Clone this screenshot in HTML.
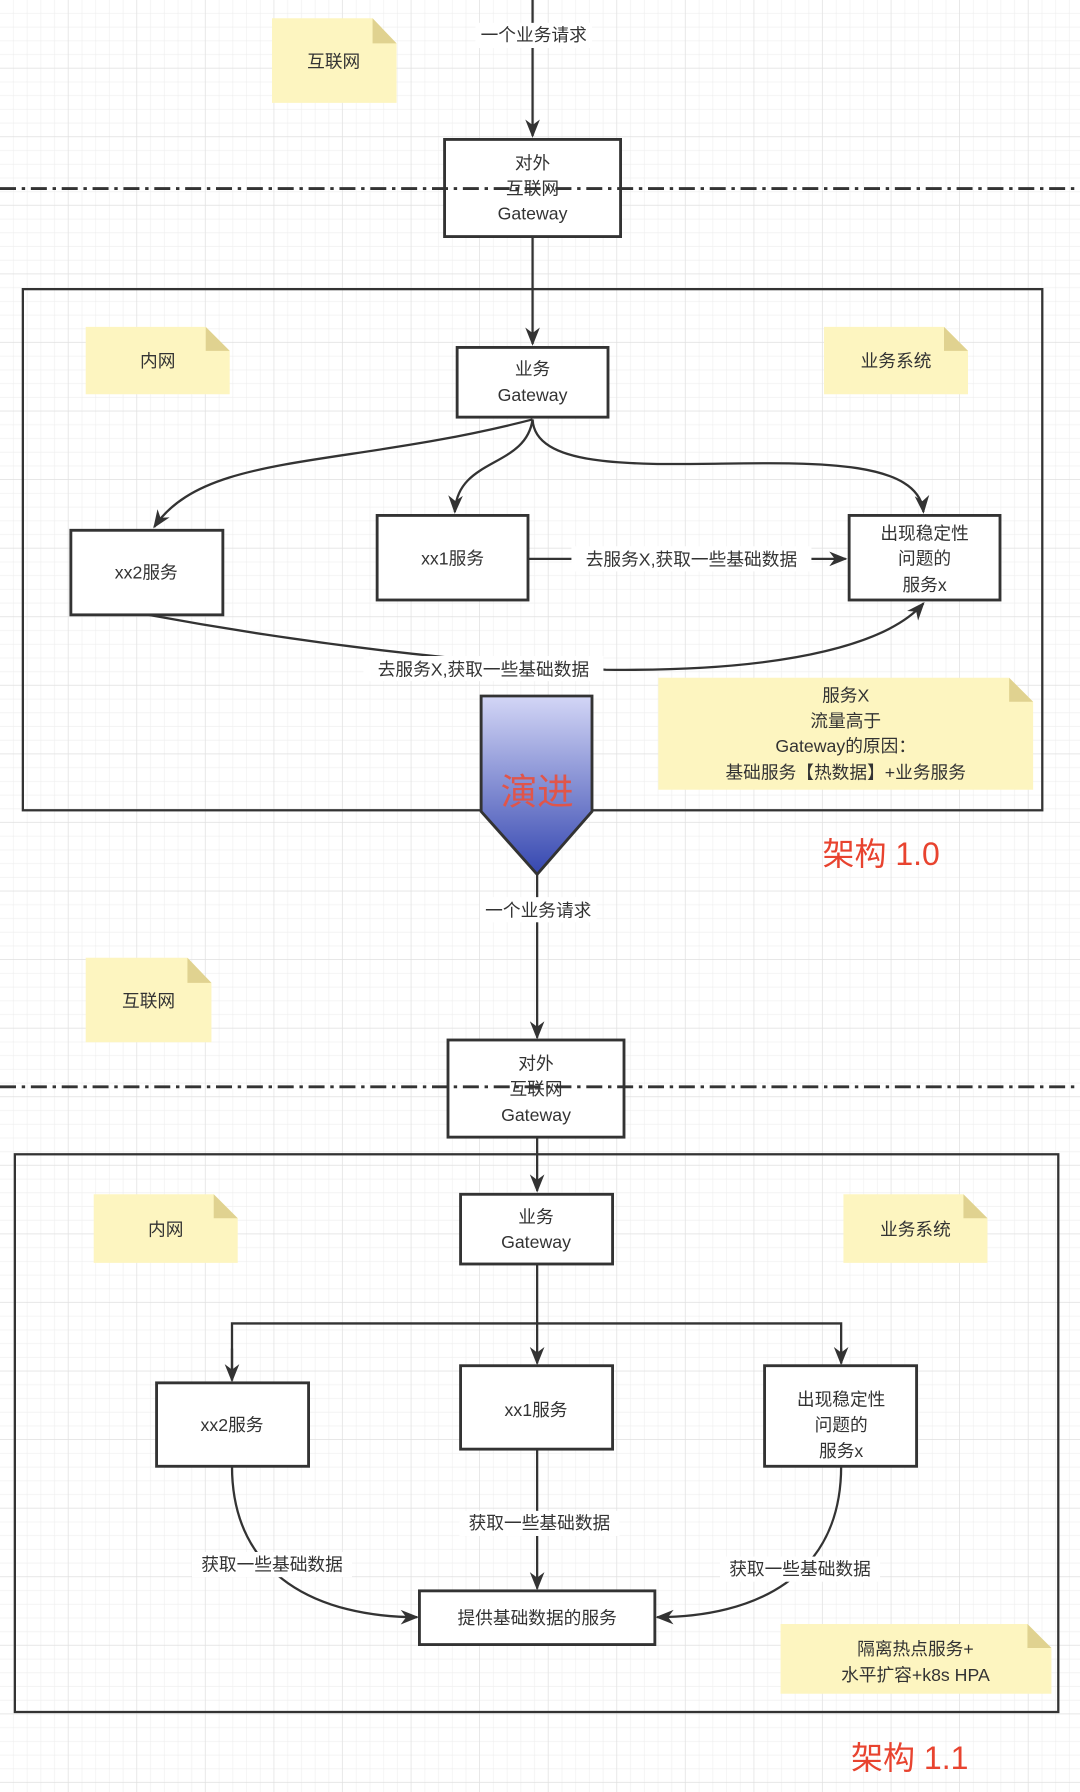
<!DOCTYPE html>
<html><head><meta charset="utf-8"><style>
html,body{margin:0;padding:0;background:#fff;}
svg{display:block;}
text{font-family:"Liberation Sans","Noto Sans CJK SC",sans-serif;fill:#333;font-size:15.5px;text-anchor:middle;}
</style></head><body>
<svg width="1080" height="1792" viewBox="0 0 945 1568" xmlns="http://www.w3.org/2000/svg">
<defs>
<pattern id="g" width="12" height="12" patternUnits="userSpaceOnUse"><path d="M12 0V12H0" fill="none" stroke="#ededed" stroke-width="1"/></pattern>
<pattern id="G" width="60" height="60" patternUnits="userSpaceOnUse"><rect width="60" height="60" fill="url(#g)"/><path d="M60 0V60H0" fill="none" stroke="#e0e0e0" stroke-width="1.2"/></pattern>
<marker id="a" viewBox="0 0 10 10" refX="9" refY="5" markerWidth="8" markerHeight="8" orient="auto"><path d="M0 1L10 5L0 9L3 5Z" fill="#333"/></marker>
<linearGradient id="ev" x1="0" y1="0" x2="0" y2="1"><stop offset="0" stop-color="#d3d6f6"/><stop offset="1" stop-color="#3547b0"/></linearGradient>
</defs>
<rect width="945" height="1568" fill="url(#G)"/>
<g fill="none" stroke="#333" stroke-width="2">
<line x1="466" y1="0" x2="466" y2="119" marker-end="url(#a)"/>
</g>
<rect x="416" y="20" width="102" height="22" fill="#fff"/>
<text x="467" y="36">一个业务请求</text>
<g fill="#fdf5c0">
<path d="M238 16H326L347 38V90H238Z"/><path d="M75 286H180L201 307V345H75Z"/><path d="M721 286H826L847 307V345H721Z"/>
<path d="M576 593H883L904 614V691H576Z"/>
<path d="M75 838H164L185 860V912H75Z"/><path d="M82 1045H187L208 1066V1105H82Z"/><path d="M738 1045H843L864 1066V1105H738Z"/>
<path d="M683 1421H899L920 1442V1482H683Z"/>
</g>
<g fill="#e0d290">
<path d="M326 16L347 38H326Z"/><path d="M180 286L201 307H180Z"/><path d="M826 286L847 307H826Z"/><path d="M883 593L904 614H883Z"/>
<path d="M164 838L185 860H164Z"/><path d="M187 1045L208 1066H187Z"/><path d="M843 1045L864 1066H843Z"/><path d="M899 1421L920 1442H899Z"/>
</g>
<text x="292" y="59">互联网</text><text x="138" y="321">内网</text><text x="784" y="321">业务系统</text>
<text x="740" y="614">服务X</text><text x="740" y="636">流量高于</text><text x="740" y="658">Gateway的原因：</text><text x="740" y="681">基础服务【热数据】+业务服务</text>
<text x="130" y="881">互联网</text><text x="145" y="1081">内网</text><text x="801" y="1081">业务系统</text>
<text x="801" y="1448">隔离热点服务+</text><text x="801" y="1471">水平扩容+k8s HPA</text>

<rect x="20" y="253" width="892" height="456" fill="none" stroke="#333" stroke-width="2"/>
<rect x="389" y="122" width="154" height="85" fill="#fff" stroke="#333" stroke-width="2.5"/>
<line x1="0" y1="165" x2="945" y2="165" stroke="#333" stroke-width="2.5" stroke-dasharray="14,5,3,5"/>
<text x="466" y="148">对外</text><text x="466" y="170">互联网</text><text x="466" y="192">Gateway</text>
<g fill="none" stroke="#333" stroke-width="2">
<line x1="466" y1="207" x2="466" y2="301" marker-end="url(#a)"/>
<path d="M466 367C300 410 180 395 135 461" marker-end="url(#a)"/>
<path d="M466 367C460 410 400 400 398 448" marker-end="url(#a)"/>
<path d="M466 367C470 450 800 360 808 448" marker-end="url(#a)"/>
<path d="M130 538Q330 575 530 586C700 588 780 560 808 528" marker-end="url(#a)"/>
<line x1="462" y1="489" x2="740" y2="489" marker-end="url(#a)"/>
</g>
<rect x="500" y="478" width="210" height="22" fill="#fff"/><text x="605" y="495">去服务X,获取一些基础数据</text>
<rect x="318" y="574" width="210" height="22" fill="#fff"/><text x="423" y="591">去服务X,获取一些基础数据</text>
<g fill="#fff" stroke="#333" stroke-width="2.5">
<rect x="400" y="304" width="132" height="61"/><rect x="62" y="464" width="133" height="74"/><rect x="330" y="451" width="132" height="74"/><rect x="743" y="451" width="132" height="74"/>
</g>
<text x="466" y="328">业务</text><text x="466" y="351">Gateway</text>
<text x="128" y="506">xx2服务</text><text x="396" y="494">xx1服务</text>
<text x="809" y="472">出现稳定性</text><text x="809" y="494">问题的</text><text x="809" y="517">服务x</text>
<path d="M421 609H518V710L470 765L421 710Z" fill="url(#ev)" stroke="#333" stroke-width="2.5"/>
<text x="470" y="704" style="font-size:32px;fill:#e0554a">演进</text>
<text x="771" y="757" style="font-size:28px;fill:#e8432f">架构 1.0</text>

<g fill="none" stroke="#333" stroke-width="2">
<line x1="470" y1="765" x2="470" y2="908" marker-end="url(#a)"/>
</g>
<rect x="420" y="785" width="102" height="22" fill="#fff"/><text x="471" y="802">一个业务请求</text>
<rect x="13" y="1010" width="913" height="488" fill="none" stroke="#333" stroke-width="2"/>
<rect x="392" y="910" width="154" height="85" fill="#fff" stroke="#333" stroke-width="2.5"/>
<line x1="0" y1="951" x2="945" y2="951" stroke="#333" stroke-width="2.5" stroke-dasharray="14,5,3,5"/>
<text x="469" y="936">对外</text><text x="469" y="958">互联网</text><text x="469" y="981">Gateway</text>
<g fill="none" stroke="#333" stroke-width="2">
<line x1="470" y1="995" x2="470" y2="1042" marker-end="url(#a)"/>
<line x1="470" y1="1106" x2="470" y2="1193" marker-end="url(#a)"/>
<path d="M203 1207V1158H736V1193" />
<line x1="203" y1="1180" x2="203" y2="1208" marker-end="url(#a)"/>
<line x1="736" y1="1180" x2="736" y2="1193" marker-end="url(#a)"/>
<line x1="470" y1="1268" x2="470" y2="1390" marker-end="url(#a)"/>
<path d="M203 1283C203 1380 280 1415 365 1415" marker-end="url(#a)"/>
<path d="M736 1283C736 1380 660 1415 575 1415" marker-end="url(#a)"/>
</g>
<g fill="#fff" stroke="#333" stroke-width="2.5">
<rect x="403" y="1045" width="133" height="61"/><rect x="137" y="1210" width="133" height="73"/><rect x="403" y="1195" width="133" height="73"/><rect x="669" y="1195" width="133" height="88"/><rect x="367" y="1392" width="206" height="47"/>
</g>
<text x="469" y="1070">业务</text><text x="469" y="1092">Gateway</text>
<text x="203" y="1252">xx2服务</text><text x="469" y="1239">xx1服务</text>
<text x="736" y="1230">出现稳定性</text><text x="736" y="1252">问题的</text><text x="736" y="1275">服务x</text>
<text x="470" y="1421">提供基础数据的服务</text>
<rect x="402" y="1322" width="140" height="22" fill="#fff"/><text x="472" y="1338">获取一些基础数据</text>
<rect x="168" y="1358" width="140" height="22" fill="#fff"/><text x="238" y="1374">获取一些基础数据</text>
<rect x="630" y="1362" width="140" height="22" fill="#fff"/><text x="700" y="1378">获取一些基础数据</text>
<text x="796" y="1548" style="font-size:28px;fill:#e8432f">架构 1.1</text>
</svg>
</body></html>
